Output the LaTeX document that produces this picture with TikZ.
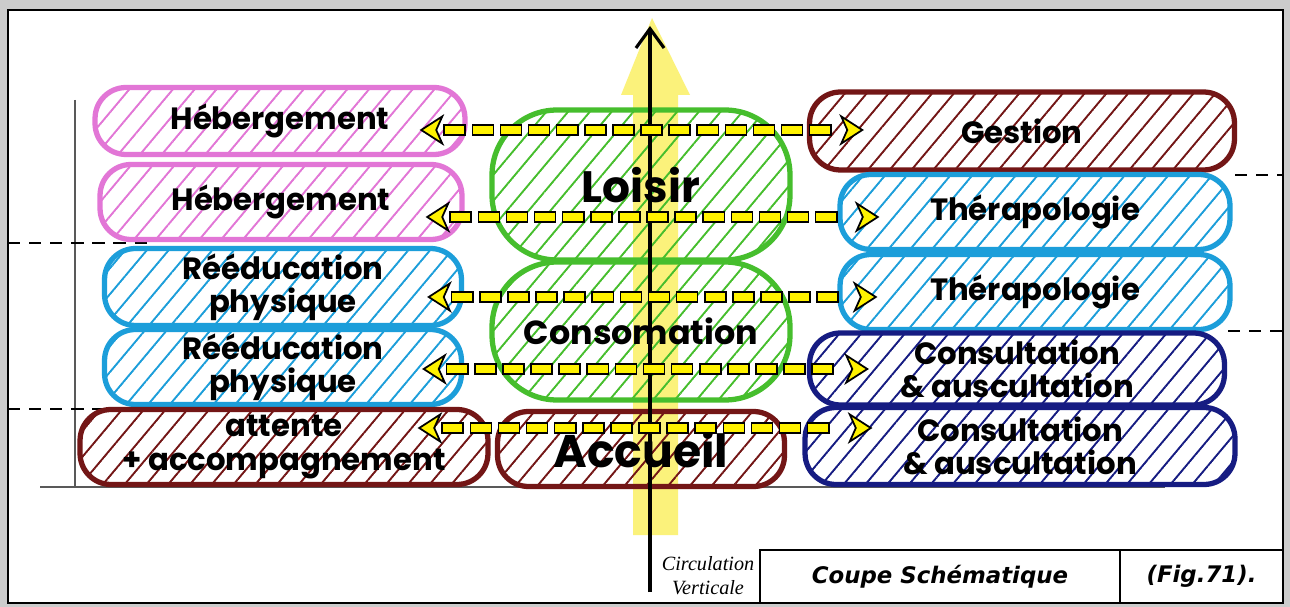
\documentclass[tikz,border=0pt]{standalone}
\usepackage{fontspec}
\setmainfont{Poppins}
\newfontfamily\capfont{DejaVu Sans}
\newfontfamily\handfont{Liberation Serif}
\usetikzlibrary{arrows.meta,calc,patterns.meta,decorations.markings}

\definecolor{zpink}{RGB}{226,118,214}
\definecolor{zcyan}{RGB}{28,158,218}
\definecolor{znavy}{RGB}{22,28,130}
\definecolor{zbrown}{RGB}{115,22,22}
\definecolor{zgreen}{RGB}{70,190,45}
\definecolor{arrowyel}{RGB}{255,242,0}
\definecolor{coly}{RGB}{250,238,80}

\newcommand\zonefont{\fontsize{17.5}{19}\selectfont\bfseries}

\tikzdeclarepattern{
  name=hatch,
  bounding box={(0,-0.7pt) and (9.5pt,0.7pt)},
  tile size={(9.5pt,9.5pt)},
  tile transformation={rotate=50},
  code={\draw[line width=1.1pt] (0,0) -- (9.5pt,0);}
}

\begin{document}
\begin{tikzpicture}[x=0.02cm, y=-0.02cm,
    zone/.style={rectangle, rounded corners=0.62cm, line width=3pt,
      align=center, inner sep=0pt, font=\zonefont},
    hebz/.style={zone, draw=zpink, pattern=hatch, pattern color=zpink},
    reez/.style={zone, draw=zcyan, pattern=hatch, pattern color=zcyan},
    navz/.style={zone, draw=znavy, pattern=hatch, pattern color=znavy},
    brnz/.style={zone, draw=zbrown, pattern=hatch, pattern color=zbrown},
    grnz/.style={zone, rounded corners=1.3cm, draw=zgreen,
      pattern=hatch, pattern color=zgreen},
    sep/.style={black, line width=1.2pt, dash pattern=on 7pt off 5pt},
    tipy/.tip={Stealth[length=14pt, width=18pt, inset=4pt, line width=1pt,
      fill=arrowyel]},
    flow/.style={postaction={decorate}, decoration={markings,
      mark=between positions 20pt and -19pt step 16pt with
        {\draw[fill=arrowyel, line width=0.9pt] (-6pt,-2.8pt) rectangle (6pt,2.8pt);},
      mark=at position 0 with {\arrowreversed{tipy}},
      mark=at position 1 with {\arrow{tipy}}}},
    capcell/.style={draw, line width=1.2pt, minimum height=1.06cm,
      font=\capfont\bfseries\itshape\fontsize{13}{15}\selectfont}
  ]
  \useasboundingbox (0,0) rectangle (1290,607);
  \fill[gray!40] (0,0) rectangle (1290,607);
  \draw[line width=1.2pt, fill=white] (8,10) rectangle (1283,603);

  % axes and level lines
  \draw[gray!70!black, line width=0.6pt] (75,100) -- (75,487);
  \draw[gray!70!black, line width=0.8pt] (40,487) -- (1165,487);
  \draw[sep] (8,243) -- (150,243);
  \draw[sep] (8,409) -- (125,409);
  \draw[sep] (1235,175) -- (1283,175);
  \draw[sep] (1228,331) -- (1283,331);

  % vertical circulation band
  \fill[coly, opacity=0.75] (633,535) -- (633,95) -- (621,95) -- (652,18)
    -- (690,95) -- (678,95) -- (678,535) -- cycle;

  % left column
  \node[hebz, minimum width=7.4cm, minimum height=1.34cm] (heb1) at (280,121) {Hébergement};
  \node[hebz, minimum width=7.24cm, minimum height=1.5cm] (heb2) at (281,202) {Hébergement};
  \node[reez, minimum width=7.14cm, minimum height=1.54cm] (ree1) at (283,287) {Rééducation\\physique};
  \node[reez, minimum width=7.14cm, minimum height=1.5cm] (ree2) at (283,367) {Rééducation\\physique};
  \node[brnz, minimum width=8.16cm, minimum height=1.5cm] (att) at (284,447) {attente\\+ accompagnement};

  % middle column
  \node[grnz, minimum width=5.96cm, minimum height=3cm,
    font=\fontsize{25}{25}\selectfont\bfseries] (loisir) at (641,185) {Loisir};
  \node[grnz, minimum width=5.96cm, minimum height=2.76cm,
    font=\fontsize{19}{19}\selectfont\bfseries] (conso) at (641,331) {Consomation};
  \node[brnz, minimum width=5.74cm, minimum height=1.5cm,
    font=\fontsize{26}{26}\selectfont\bfseries] (accueil) at (641,449) {Accueil};

  % right column
  \node[brnz, minimum width=8.5cm, minimum height=1.56cm] (gestion) at (1022,131) {Gestion};
  \node[reez, minimum width=7.8cm, minimum height=1.5cm] (thera1) at (1035,212) {Thérapologie};
  \node[reez, minimum width=7.8cm, minimum height=1.5cm] (thera2) at (1035,292) {Thérapologie};
  \node[navz, minimum width=8.3cm, minimum height=1.44cm] (consul1) at (1017,369) {Consultation\\\& auscultation};
  \node[navz, minimum width=8.6cm, minimum height=1.54cm] (consul2) at (1020,446) {Consultation\\\& auscultation};

  % circulation arrow
  \coordinate (cvbot) at (650,592);
  \coordinate (cvtop) at (650,26);
  \draw[line width=1.8pt, -{Straight Barb[length=11pt, width=16pt, line width=1.8pt]}] (cvbot) -- (cvtop);
  \node[font=\handfont\itshape\fontsize{11.5}{13.5}\selectfont, align=center] (circ) at (708,576) {Circulation\\Verticale};

  % flows
  \path[flow] ($(heb1.east)+(-48,9)$) -- ($(gestion.west)+(57,-1)$);
  \path[flow] ($(heb2.east)+(-39,15)$) -- ($(thera1.west)+(42,5)$);
  \path[flow] ($(ree1.east)+(-37,10)$) -- ($(thera2.west)+(40,5)$);
  \path[flow] ($(ree2.east)+(-42,2)$) -- ($(consul1.west)+(62,0)$);
  \path[flow] ($(att.east)+(-73,-19)$) -- ($(consul2.west)+(70,-18)$);

  % caption
  \node[capcell, minimum width=7.2cm] (cap) at (940,576.5) {Coupe Schématique};
  \node[capcell, minimum width=3.26cm] (fig) at (1201.5,576.5) {(Fig.71).};
\end{tikzpicture}
\end{document}
